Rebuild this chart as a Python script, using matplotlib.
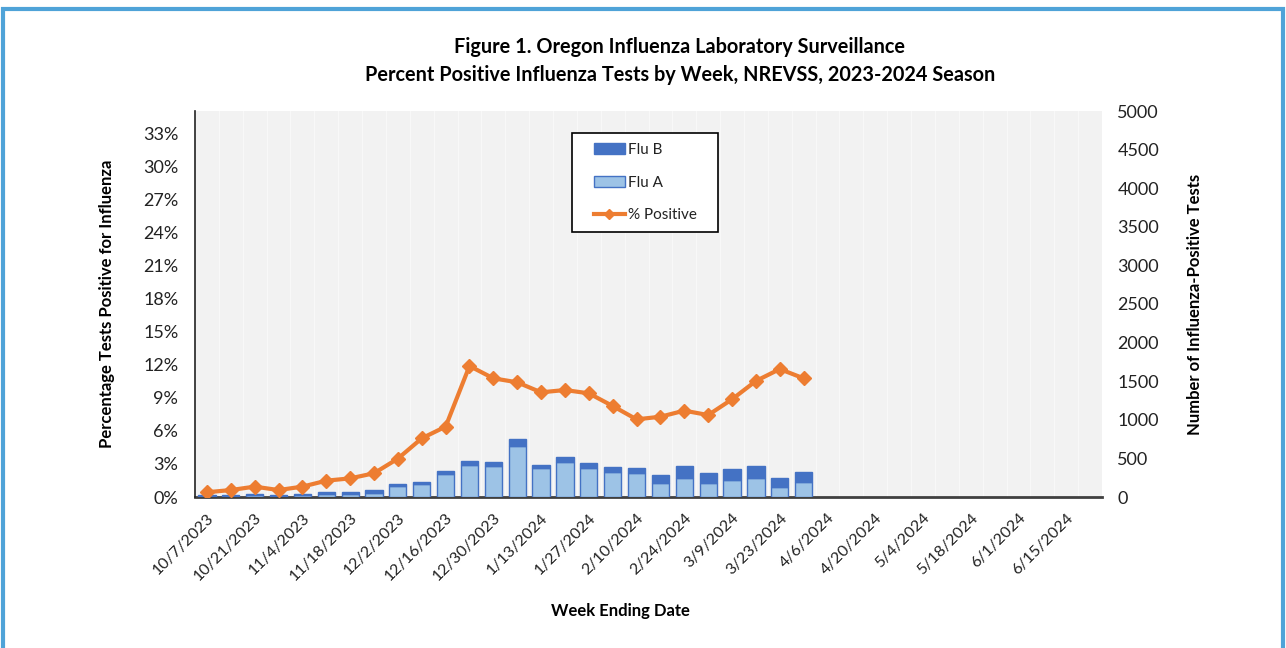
import matplotlib.pyplot as plt
import matplotlib.lines as mlines
import numpy as np
import pandas as pd

plt.rcParams['font.family'] = ['Lato', 'DejaVu Sans']

# week ending dates, 10/7/2023 .. 6/22/2024
semanas = pd.date_range('2023-10-07', periods=38, freq='7D')
rotulos = [f'{d.month}/{d.day}/{d.year}' for d in semanas]

# numbers (data through 3/30/2024)
flu_a = [10, 10, 20, 10, 25, 39, 45, 56, 142, 168, 294, 414, 405, 665,
         371, 449, 371, 320, 311, 185, 246, 177, 216, 246, 130, 194]
flu_total = [25, 25, 39, 25, 39, 65, 65, 95, 172, 190, 333, 466, 457, 747,
             414, 518, 436, 389, 380, 289, 397, 311, 363, 397, 242, 328]
flu_b = [t - a for t, a in zip(flu_total, flu_a)]
pct_positivo = [0.43, 0.63, 0.94, 0.63, 0.94, 1.48, 1.69, 2.15, 3.48, 5.32,
                6.38, 11.88, 10.76, 10.40, 9.49, 9.70, 9.40, 8.25, 7.04, 7.28,
                7.83, 7.43, 8.86, 10.52, 11.60, 10.76]

AZUL = '#4472C4'
AZUL_CLARO = '#9DC3E6'
LARANJA = '#ED7D31'

fig = plt.figure(figsize=(12.86, 6.48), dpi=100)
ax = fig.add_axes([195 / 1286, 1 - 497 / 648, (1102 - 195) / 1286, (497 - 111) / 648])
ax.set_facecolor('#F2F2F2')

x = np.arange(len(flu_a))
ax.bar(x, flu_a, width=0.72, color=AZUL_CLARO, edgecolor=AZUL, linewidth=1.0, zorder=3)
ax.bar(x, flu_b, bottom=flu_a, width=0.72, color=AZUL, edgecolor=AZUL, linewidth=1.0, zorder=3)
ax.set_xlim(-0.5, len(semanas) - 0.5)
ax.set_ylim(0, 5000)
ax.set_yticks(range(0, 5001, 500))

# faint vertical lines between categories
for xv in np.arange(-0.5, len(semanas), 1):
    ax.axvline(xv, color='#FAFAFA', linewidth=0.6, zorder=1)

ax2 = ax.twinx()
ax2.plot(x, pct_positivo, color=LARANJA, linewidth=3, marker='D', markersize=7, zorder=5)
ax2.set_ylim(0, 35)
ax2.set_yticks(range(0, 34, 3))
ax2.set_yticklabels([f'{v}%' for v in range(0, 34, 3)])

# counts on the right, percent on the left
ax.yaxis.tick_right()
ax.yaxis.set_label_position('right')
ax2.yaxis.tick_left()
ax2.yaxis.set_label_position('left')
ax.set_ylabel('Number of Influenza-Positive Tests', fontsize=12, fontweight='bold', labelpad=20)
ax2.set_ylabel('Percentage Tests Positive for Influenza', fontsize=12, fontweight='bold', labelpad=20)

ax.set_xticks(range(0, len(semanas), 2))
ax.set_xticklabels(rotulos[::2], rotation=45, ha='right', va='top', rotation_mode='anchor')

for a in (ax, ax2):
    for s in a.spines.values():
        s.set_visible(False)
    a.tick_params(length=0, colors='#222222')
ax.tick_params(axis='y', pad=11, labelsize=13)
ax2.tick_params(axis='y', pad=12, labelsize=13)
ax.tick_params(axis='x', pad=10, labelsize=11.5)
ax2.spines['left'].set_visible(True)
ax2.spines['left'].set_color('#222222')
ax2.spines['left'].set_linewidth(1.2)
ax.spines['bottom'].set_visible(True)
ax.spines['bottom'].set_color('#404040')
ax.spines['bottom'].set_linewidth(2)

fig.text(620 / 1286, 1 - 611 / 648, 'Week Ending Date', ha='center', va='center',
         fontsize=12, fontweight='bold')
fig.text(680 / 1286, 1 - 61 / 648,
         'Figure 1. Oregon Influenza Laboratory Surveillance\n'
         'Percent Positive Influenza Tests by Week, NREVSS, 2023-2024 Season',
         ha='center', va='center', fontsize=14.3, fontweight='bold', linespacing=1.5)

# legend: entries without frame, box drawn separately
h_b = plt.Rectangle((0, 0), 1, 1, facecolor=AZUL, edgecolor=AZUL)
h_a = plt.Rectangle((0, 0), 1, 1, facecolor=AZUL_CLARO, edgecolor=AZUL)
h_p = mlines.Line2D([], [], color=LARANJA, linewidth=3, marker='D', markersize=5)
caixa = plt.Rectangle((572 / 1286, 1 - 232 / 648), 146 / 1286, 99 / 648,
                      transform=fig.transFigure, facecolor='white',
                      edgecolor='black', linewidth=1.2, zorder=9)
ax2.add_patch(caixa)
leg = ax2.legend([h_b, h_a, h_p], ['Flu B', 'Flu A', '% Positive'],
                 loc='upper left', bbox_to_anchor=(594 / 1286, 1 - 143 / 648),
                 bbox_transform=fig.transFigure, fontsize=11, frameon=False,
                 labelspacing=1.22, handlelength=2.0, handletextpad=0.2,
                 borderpad=0, borderaxespad=0)
leg.set_zorder(10)
for t in leg.get_texts():
    t.set_color('#222222')

# light blue frame around the figure
moldura = plt.Rectangle((0.002, -0.01), 0.996, 0.996, transform=fig.transFigure,
                        fill=False, edgecolor='#4FA3D8', linewidth=3)
fig.patches.append(moldura)

fig.savefig('out.png', dpi=100, facecolor='white')
